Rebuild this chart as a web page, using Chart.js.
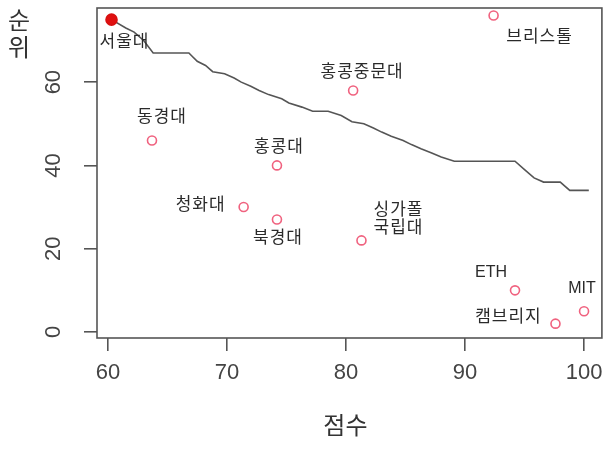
<!DOCTYPE html>
<html><head><meta charset="utf-8">
<script src="https://cdn.jsdelivr.net/npm/chart.js@4.4.1/dist/chart.umd.min.js"></script>
<style>html,body{margin:0;padding:0;background:#fff}#wrap{width:609px;height:449px;position:relative}</style>
</head><body><div id="wrap"><canvas id="c" width="609" height="449"></canvas></div>
<script>
// ---- data ----
const universities = ['서울대','브리스톨','홍콩중문대','동경대','홍콩대','청화대','북경대','싱가폴\n국립대','ETH','캠브리지','MIT'];
const scores = [60.3, 92.4, 80.6, 63.7, 74.2, 71.4, 74.2, 81.3, 94.2, 97.6, 100];
const ranks  = [75, 76, 58, 46, 40, 30, 27, 22, 10, 2, 5];
const curveScores = [60.3,61.5,62.2,63.0,63.8,65.5,66.8,67.5,68.2,68.8,69.8,70.6,71.2,72.0,72.7,73.5,74.6,75.2,76.3,77.2,78.5,79.6,80.5,81.5,82.3,83.0,83.8,84.8,85.5,86.3,87.2,88.0,89.1,91.0,94.2,95.0,95.8,96.6,98.0,98.8,100.4];
const curveRanks  = [75,73,72,70,67,67,67,65,64,62.5,62,61,60,59,58,57,56,55,54,53,53,52,50.5,50,49,48,47,46,45,44,43,42,41,41,41,39,37,36,36,34,34];
const xTicks = [60, 70, 80, 90, 100];
const yTicks = [0, 20, 40, 60];
const xTitle = '점수';
const yTitle = ['순', '위'];

// ---- style ----
const labelOffsets = [[13,23],[46,22],[9,-18],[10,-23],[2,-18],[-43,-2],[1,19],[37,-21],[-24,-18],[-47,-6],[-2,-23]];
const AXIS = '#555';
const FONT = '"Liberation Sans", "Noto Sans CJK KR", sans-serif';

const decor = {
  id: 'decor',
  afterDatasetsDraw(chart) {
    const {ctx, chartArea: a, scales: {x, y}} = chart;
    ctx.save();
    // box
    ctx.strokeStyle = AXIS; ctx.lineWidth = 1.6;
    ctx.strokeRect(a.left, a.top, a.right - a.left, a.bottom - a.top);
    // point labels
    ctx.fillStyle = '#2a2a2a';
    ctx.textAlign = 'center'; ctx.textBaseline = 'middle';
    universities.forEach((name, i) => {
      const korean = /[\uac00-\ud7a3]/.test(name);
      ctx.font = (korean ? '17px ' : '16px ') + FONT;
      ctx.letterSpacing = korean ? '1px' : '0px';
      const px = x.getPixelForValue(scores[i]) + labelOffsets[i][0];
      const py = y.getPixelForValue(ranks[i]) + labelOffsets[i][1];
      const lines = name.split('\n');
      lines.forEach((ln, k) => ctx.fillText(ln, px, py + (k - (lines.length - 1) / 2) * 18));
    });
    ctx.letterSpacing = '0px';
    // x tick labels
    ctx.fillStyle = '#444';
    ctx.font = '22px ' + FONT;
    xTicks.forEach(v => ctx.fillText(String(v), x.getPixelForValue(v), 373));
    // y tick labels (rotated)
    yTicks.forEach(v => {
      ctx.save();
      ctx.translate(54, y.getPixelForValue(v));
      ctx.rotate(-Math.PI / 2);
      ctx.fillText(String(v), 0, 0);
      ctx.restore();
    });
    // titles
    ctx.fillStyle = '#333';
    ctx.font = '24px ' + FONT;
    ctx.fillText(xTitle, (a.left + a.right) / 2 - 4, 427);
    ctx.fillText(yTitle[0], 19, 22);
    ctx.fillText(yTitle[1], 19, 49);
    ctx.restore();
  }
};

new Chart(document.getElementById('c'), {
  data: {
    datasets: [
      {
        type: 'scatter',
        data: scores.map((v, i) => ({x: v, y: ranks[i]})),
        pointRadius: ctx => ctx.dataIndex === 0 ? 5.5 : 4.5,
        pointBorderWidth: 1.6,
        pointBorderColor: ctx => ctx.dataIndex === 0 ? '#d81010' : '#f0627f',
        pointBackgroundColor: ctx => ctx.dataIndex === 0 ? '#e01010' : 'rgba(0,0,0,0)',
        order: 1
      },
      {
        type: 'line',
        data: curveScores.map((v, i) => ({x: v, y: curveRanks[i]})),
        borderColor: AXIS,
        borderWidth: 1.6,
        pointRadius: 0,
        tension: 0,
        fill: false,
        order: 2
      }
    ]
  },
  options: {
    responsive: false,
    animation: false,
    devicePixelRatio: 1,
    layout: {padding: {left: 0, top: 8, right: 4, bottom: 0}},
    plugins: {legend: {display: false}, tooltip: {enabled: false}},
    scales: {
      x: {
        type: 'linear', min: 59.08, max: 101.5,
        afterBuildTicks: s => { s.ticks = xTicks.map(v => ({value: v})); },
        afterFit: s => { s.height = 111; },
        ticks: {display: false},
        grid: {drawOnChartArea: false, drawTicks: true, tickLength: 13, color: AXIS, lineWidth: 1.6},
        border: {display: false}
      },
      y: {
        type: 'linear', min: -1.44, max: 77.8,
        afterBuildTicks: s => { s.ticks = yTicks.map(v => ({value: v})); },
        afterFit: s => { s.width = 97; },
        ticks: {display: false},
        grid: {drawOnChartArea: false, drawTicks: true, tickLength: 13, color: AXIS, lineWidth: 1.6},
        border: {display: false}
      }
    }
  },
  plugins: [decor]
});
</script>
</body></html>
